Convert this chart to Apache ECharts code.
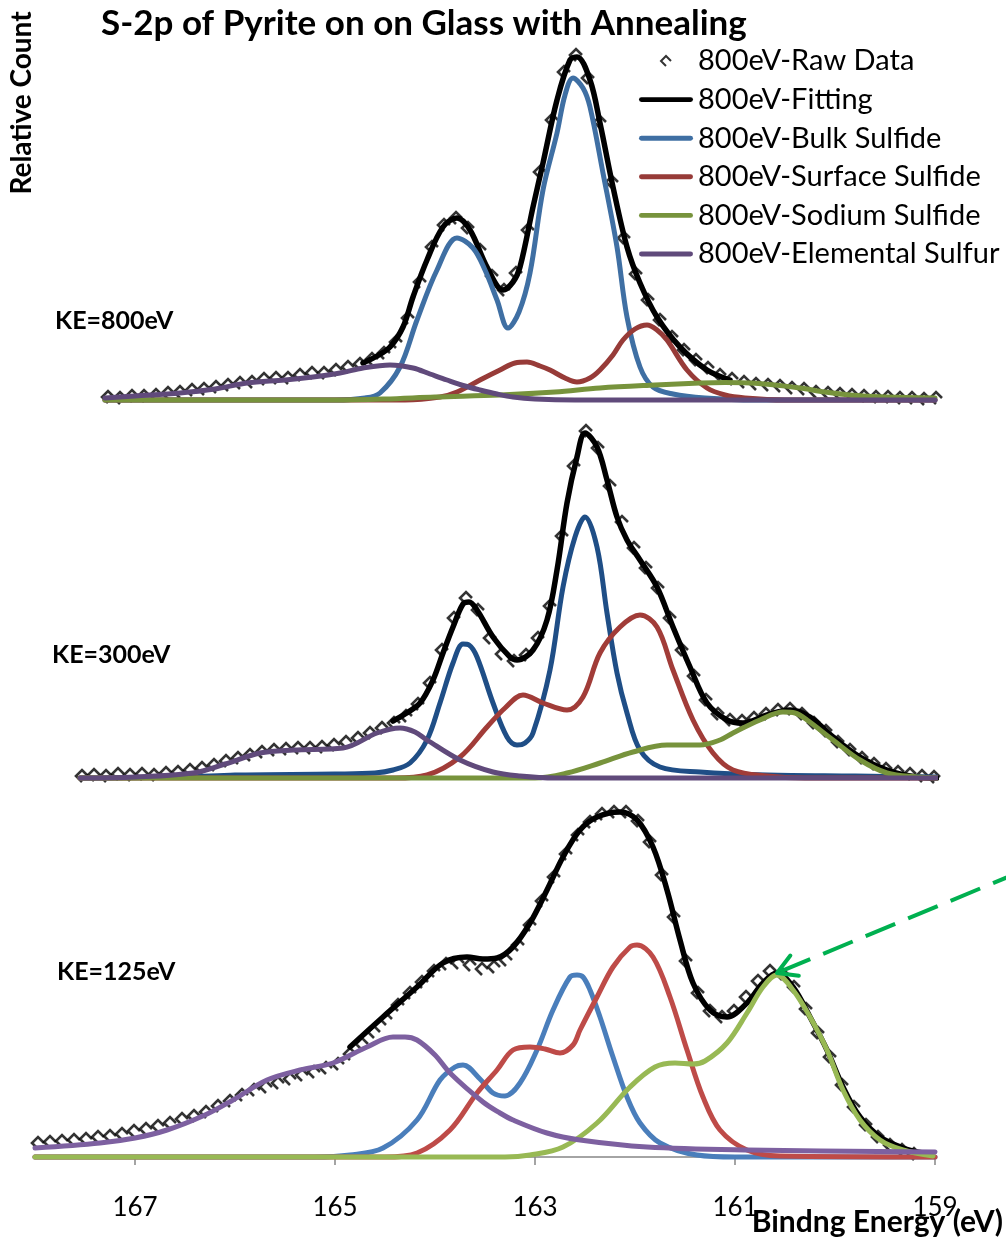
<!DOCTYPE html>
<html>
<head>
<meta charset="utf-8">
<script src="https://cdn.jsdelivr.net/npm/echarts@6/dist/echarts.min.js"></script>
<style>
  html, body { margin: 0; padding: 0; background: #fff; }
  #chart { width: 1006px; height: 1238px; }
</style>
</head>
<body>
<div id="chart"></div>
<script>
// S-2p spectra, binding energy (eV) vs relative count, one panel per kinetic energy.
// Each list holds [binding energy, relative count] pairs.

// ---- KE = 800 eV ----
const RAW_800 = [
  [167.27,3],[167.15,2],[167.03,4],[166.91,4],[166.79,5],[166.67,7],[166.55,8],[166.43,10],[166.31,11],[166.19,13],
  [166.07,15],[165.95,17],[165.83,18],[165.71,21],[165.59,22],[165.47,22],[165.35,25],[165.23,27],[165.11,27],[164.99,30],
  [164.87,33],[164.75,36],[164.63,41],[164.51,47],[164.39,58],[164.27,82],[164.15,118],[164.03,153],[163.91,175],[163.79,182],
  [163.67,172],[163.55,150],[163.43,124],[163.31,110],[163.19,127],[163.07,170],[162.95,228],[162.83,280],[162.71,328],[162.59,345],
  [162.47,322],[162.35,278],[162.23,218],[162.11,162],[161.99,126],[161.87,100],[161.75,80],[161.63,63],[161.51,50],[161.39,40],
  [161.27,32],[161.15,25],[161.03,21],[160.91,18],[160.79,16],[160.67,15],[160.55,14],[160.43,12],[160.31,11],[160.19,8],
  [160.07,7],[159.95,6],[159.83,5],[159.71,4],[159.59,3],[159.47,3],[159.35,2],[159.23,2],[159.11,1],[158.99,2]
];
const FIT_800 = [
  [164.72,37],[164.58,44],[164.45,53],[164.32,73],[164.22,103],[164.08,140],[163.92,173],[163.78,182],[163.65,170],[163.48,133],
  [163.32,110],[163.22,118],[163.15,133],[163.02,193],[162.92,237],[162.78,300],[162.65,340],[162.58,343],[162.45,320],[162.35,277],
  [162.22,213],[162.08,153],[161.95,117],[161.78,83],[161.55,53],[161.28,30],[161.05,20]
];
const BULK_800 = [
  [167.3,0],[165.0,0],[164.7,2],[164.55,7],[164.35,33],[164.18,80],[163.98,130],[163.78,162],[163.62,152],[163.5,130],
  [163.38,100],[163.27,72],[163.16,88],[163.05,127],[162.92,210],[162.78,267],[162.7,305],[162.62,322],[162.52,312],[162.45,293],
  [162.32,227],[162.18,153],[162.08,83],[161.95,33],[161.82,13],[161.62,6],[161.3,2],[160.8,0],[159.0,0]
];
const SURF_800 = [
  [167.3,0],[164.3,0],[163.95,3],[163.78,8],[163.55,20],[163.35,30],[163.2,37],[163.08,38],[162.95,34],[162.85,30],
  [162.7,22],[162.58,18],[162.45,22],[162.35,30],[162.22,45],[162.12,60],[162.0,71],[161.88,75],[161.78,70],[161.68,60],
  [161.48,30],[161.28,12],[161.1,5],[160.9,2],[160.5,0],[159.0,0]
];
const SODIUM_800 = [
  [167.3,0],[165.0,0],[164.5,1],[164.0,3],[163.35,5],[162.8,8],[162.35,12],[161.8,15],[161.35,17],[161.1,17.5],
  [160.85,17],[160.6,15],[160.35,12],[160.1,8],[159.85,5],[159.5,3],[159.0,2]
];
const ELEM_800 = [
  [167.3,2],[167.0,4],[166.55,7],[166.2,11],[165.88,17],[165.5,20],[165.22,23],[164.95,27],[164.72,32],[164.45,35],
  [164.22,32],[164.05,26],[163.88,20],[163.7,14],[163.55,10],[163.38,6],[163.22,3],[163.0,1],[162.6,0],[159.0,0]
];

// ---- KE = 300 eV ----
const RAW_300 = [
  [167.53,2],[167.41,3],[167.29,2],[167.17,4],[167.05,3],[166.93,4],[166.81,3],[166.69,5],[166.57,6],[166.45,8],
  [166.33,10],[166.21,13],[166.09,17],[165.97,20],[165.85,23],[165.73,26],[165.61,28],[165.49,29],[165.37,30],[165.25,30],
  [165.13,31],[165.01,33],[164.89,36],[164.77,40],[164.65,45],[164.53,50],[164.41,55],[164.29,62],[164.17,74],[164.05,95],
  [163.93,128],[163.81,160],[163.69,180],[163.57,168],[163.45,140],[163.33,124],[163.21,117],[163.09,123],[162.97,140],[162.85,172],
  [162.73,242],[162.61,312],[162.49,347],[162.37,330],[162.25,292],[162.13,256],[162.01,230],[161.89,210],[161.77,190],[161.65,160],
  [161.53,128],[161.41,102],[161.29,78],[161.17,64],[161.05,58],[160.93,57],[160.81,60],[160.69,64],[160.57,68],[160.45,69],
  [160.33,64],[160.21,55],[160.09,47],[159.97,36],[159.85,28],[159.73,20],[159.61,14],[159.49,9],[159.37,6],[159.25,4],
  [159.13,2],[159.01,1]
];
const FIT_300 = [
  [164.42,57],[164.3,64],[164.15,75],[164.02,98],[163.92,125],[163.82,151],[163.72,174],[163.66,176],[163.58,168],[163.42,141],
  [163.25,121],[163.18,118],[163.02,128],[162.88,158],[162.78,208],[162.68,275],[162.58,321],[162.5,345],[162.38,331],[162.28,298],
  [162.18,261],[162.08,238],[161.95,218],[161.78,191],[161.62,151],[161.45,111],[161.28,75],[161.08,58],[160.92,55],[160.68,63],
  [160.45,68],[160.25,61],[160.02,41],[159.75,21],[159.48,8],[159.18,1],[158.98,0]
];
const BULK_300 = [
  [167.55,0],[166.5,1],[166.0,3],[165.0,4],[164.6,5],[164.42,8],[164.25,15],[164.08,38],[163.95,75],[163.82,115],
  [163.72,134],[163.66,133],[163.58,121],[163.42,75],[163.28,41],[163.18,33],[163.1,35],[163.02,45],[162.85,108],[162.72,191],
  [162.6,241],[162.5,261],[162.38,231],[162.28,165],[162.18,105],[162.08,65],[161.95,28],[161.75,11],[161.35,6],[160.68,3],
  [159.8,2],[158.98,1]
];
const SURF_300 = [
  [167.55,0],[164.4,0],[164.08,3],[163.75,21],[163.48,51],[163.3,70],[163.12,83],[162.92,75],[162.68,68],[162.52,81],
  [162.35,125],[162.15,151],[161.95,163],[161.78,151],[161.62,108],[161.42,58],[161.22,25],[161.02,8],[160.68,2],[160.3,0],
  [158.98,0]
];
const SODIUM_300 = [
  [167.55,0],[163.0,0],[162.68,5],[162.35,15],[162.02,26],[161.68,33],[161.35,33],[161.15,38],[161.02,45],[160.75,58],
  [160.52,66],[160.4,65],[160.28,58],[160.02,38],[159.75,18],[159.48,5],[159.18,1],[158.98,0]
];
const ELEM_300 = [
  [167.55,0],[167.0,1],[166.42,5],[166.1,14],[165.75,25],[165.42,28],[164.92,30],[164.58,45],[164.35,50],[164.2,46],
  [164.08,38],[163.75,18],[163.42,6],[163.15,2],[162.8,0],[158.98,0]
];

// ---- KE = 125 eV ----
const RAW_125 = [
  [167.97,14],[167.85,15],[167.73,16],[167.61,17],[167.49,18],[167.37,20],[167.25,21],[167.13,23],[167.01,26],[166.89,28],
  [166.77,31],[166.65,34],[166.53,38],[166.41,41],[166.29,45],[166.17,51],[166.05,56],[165.93,62],[165.81,67],[165.69,70],
  [165.57,74],[165.45,78],[165.33,82],[165.21,85],[165.09,89],[164.97,93],[164.85,103],[164.73,113],[164.61,125],[164.49,138],
  [164.37,152],[164.25,164],[164.13,175],[164.01,186],[163.89,193],[163.77,194],[163.65,192],[163.53,188],[163.41,190],[163.29,197],
  [163.17,212],[163.05,232],[162.93,256],[162.81,280],[162.69,303],[162.57,322],[162.45,335],[162.33,343],[162.21,345],[162.09,345],
  [161.97,336],[161.85,315],[161.73,282],[161.61,240],[161.49,196],[161.37,164],[161.25,146],[161.13,140],[161.01,146],[160.89,160],
  [160.77,176],[160.65,186],[160.53,183],[160.41,170],[160.29,148],[160.17,124],[160.05,100],[159.93,72],[159.81,50],[159.69,32],
  [159.57,20],[159.45,12],[159.33,7],[159.21,3]
];
const FIT_125 = [
  [164.85,110],[164.52,140],[164.18,170],[163.92,194],[163.68,200],[163.52,198],[163.38,199],[163.22,210],[163.05,234],[162.88,267],
  [162.72,300],[162.55,327],[162.38,340],[162.15,345],[161.98,337],[161.82,310],[161.68,267],[161.55,217],[161.42,174],[161.25,147],
  [161.08,140],[160.88,154],[160.72,174],[160.58,184],[160.42,170],[160.25,140],[160.08,107],[159.92,70],[159.75,40],[159.55,20],
  [159.32,9],[159.12,4]
];
const BULK_125 = [
  [168.0,0],[165.2,0],[164.85,2],[164.52,9],[164.18,37],[163.95,77],[163.8,90],[163.72,92],[163.55,78],[163.42,64],
  [163.3,61],[163.15,74],[162.98,107],[162.82,147],[162.65,180],[162.58,182],[162.52,180],[162.45,167],[162.35,140],[162.22,100],
  [162.08,60],[161.95,34],[161.75,14],[161.38,2],[161.0,0],[159.0,0]
];
const SURF_125 = [
  [168.0,0],[164.5,0],[164.18,4],[163.85,27],[163.58,64],[163.38,87],[163.22,107],[163.05,110],[162.9,108],[162.75,104],
  [162.62,112],[162.55,127],[162.38,160],[162.22,190],[162.05,210],[161.98,212],[161.82,200],[161.65,160],[161.48,107],[161.32,60],
  [161.15,27],[160.88,7],[160.55,1],[159.0,0]
];
const SODIUM_125 = [
  [168.0,0],[163.3,0],[163.05,2],[162.72,10],[162.38,34],[162.05,70],[161.8,90],[161.6,94],[161.42,93],[161.3,96],
  [161.08,114],[160.88,144],[160.72,170],[160.58,182],[160.42,167],[160.25,140],[160.08,107],[159.92,67],[159.75,37],[159.55,17],
  [159.32,7],[159.02,1]
];
const ELEM_125 = [
  [168.0,9],[167.35,14],[167.0,19],[166.68,27],[166.3,42],[166.02,57],[165.68,77],[165.35,87],[165.02,94],[164.68,110],
  [164.42,120],[164.3,120],[164.18,117],[164.0,102],[163.85,84],[163.52,55],[163.35,44],[163.22,37],[162.88,24],[162.55,17],
  [161.88,10],[160.88,7],[159.0,5]
];

// Axis ticks and annotation text
const X_TICKS = [167, 165, 163, 161, 159];
const PANEL_LABELS = ['KE=800eV', 'KE=300eV', 'KE=125eV'];
const LEGEND_NAMES = ['800eV-Raw Data', '800eV-Fitting', '800eV-Bulk Sulfide',
  '800eV-Surface Sulfide', '800eV-Sodium Sulfide', '800eV-Elemental Sulfur'];

const FONT = 'Lato, "Open Sans", "DejaVu Sans", sans-serif';
// open diamond with one edge missing, as drawn for the raw data points
const RAW_SYMBOL = 'path://M10,5 L5,0 L0,5 L5,10';
// flat bar used as the legend sample for the fitted lines
const LINE_ICON = 'path://M2,0 L52,0 A2.5,2.5 0 0 1 52,5 L2,5 A2.5,2.5 0 0 1 2,0 Z';

const PANELS = [
  { tag: '800eV', raw: RAW_800, fit: FIT_800, bulk: BULK_800, surf: SURF_800, sodium: SODIUM_800, elem: ELEM_800,
    colors: ['#3F6FA3', '#973B38', '#77933C', '#604A7B'], top: 40 },
  { tag: '300eV', raw: RAW_300, fit: FIT_300, bulk: BULK_300, surf: SURF_300, sodium: SODIUM_300, elem: ELEM_300,
    colors: ['#1F4E86', '#A13C38', '#77933C', '#604A7B'], top: 418 },
  { tag: '125eV', raw: RAW_125, fit: FIT_125, bulk: BULK_125, surf: SURF_125, sodium: SODIUM_125, elem: ELEM_125,
    colors: ['#4A7EBB', '#BE4B48', '#98B954', '#7D60A0'], top: 797 }
];

const chart = echarts.init(document.getElementById('chart'), null, { renderer: 'canvas' });

const grids = [], xAxes = [], yAxes = [], series = [];
PANELS.forEach((p, i) => {
  grids.push({ left: 35, right: 71, top: p.top, height: 360 });
  const isBottom = i === PANELS.length - 1;
  xAxes.push({
    type: 'value', gridIndex: i, min: 159, max: 168, inverse: true, show: isBottom,
    splitLine: { show: false },
    axisLine: { show: true, lineStyle: { color: '#868686', width: 1.5 } },
    axisTick: { show: true, customValues: X_TICKS, length: 8, inside: false, lineStyle: { color: '#868686', width: 1.5 } },
    axisLabel: { customValues: X_TICKS, margin: 38, color: '#000', fontSize: 26, fontFamily: FONT }
  });
  yAxes.push({ type: 'value', gridIndex: i, min: 0, max: 360, show: false });

  const line = (name, data, color, width) => ({
    type: 'line', name, data, xAxisIndex: i, yAxisIndex: i,
    smooth: 0.35, symbol: 'none', clip: false, silent: true,
    lineStyle: { color, width, cap: 'round', join: 'round' },
    itemStyle: { color }
  });
  series.push({
    type: 'scatter', name: p.tag + '-Raw Data', data: p.raw, xAxisIndex: i, yAxisIndex: i,
    symbol: RAW_SYMBOL, symbolSize: 12, clip: false, silent: true,
    itemStyle: { color: 'rgba(0,0,0,0)', borderColor: '#000', borderWidth: 2.6 }
  });
  series.push(line(p.tag + '-Fitting', p.fit, '#000', 5.5));
  series.push(line(p.tag + '-Bulk Sulfide', p.bulk, p.colors[0], 5));
  series.push(line(p.tag + '-Surface Sulfide', p.surf, p.colors[1], 5));
  series.push(line(p.tag + '-Sodium Sulfide', p.sodium, p.colors[2], 5));
  series.push(line(p.tag + '-Elemental Sulfur', p.elem, p.colors[3], 5));
});

const option = {
  animation: false,
  backgroundColor: '#fff',
  title: {
    text: 'S-2p of Pyrite on on Glass with Annealing',
    left: 96, top: 1,
    textStyle: { fontSize: 35, fontWeight: 'bold', color: '#000', fontFamily: FONT }
  },
  legend: {
    data: LEGEND_NAMES.map((name, k) => (k === 0 ? { name } : { name, icon: LINE_ICON })),
    orient: 'vertical', left: 634, top: 41,
    itemWidth: 54, itemHeight: 10, itemGap: 8.6,
    textStyle: { fontSize: 29, color: '#000', fontFamily: FONT, lineHeight: 30 }
  },
  grid: grids, xAxis: xAxes, yAxis: yAxes, series,
  graphic: [
    { id: 'ylabel', type: 'text', x: 22, y: 103, rotation: Math.PI / 2,
      style: { text: 'Relative Count', font: 'bold 28px ' + FONT, fill: '#000', align: 'center', verticalAlign: 'middle' } },
    { id: 'ke0', type: 'text', x: 55, y: 321,
      style: { text: PANEL_LABELS[0], font: 'bold 25px ' + FONT, fill: '#000', verticalAlign: 'middle' } },
    { id: 'ke1', type: 'text', x: 52, y: 655,
      style: { text: PANEL_LABELS[1], font: 'bold 25px ' + FONT, fill: '#000', verticalAlign: 'middle' } },
    { id: 'ke2', type: 'text', x: 57, y: 972,
      style: { text: PANEL_LABELS[2], font: 'bold 25px ' + FONT, fill: '#000', verticalAlign: 'middle' } },
    { id: 'xname', type: 'text', x: 1003, y: 1222,
      style: { text: 'Bindng Energy (eV)', font: 'bold 30px ' + FONT, fill: '#000', align: 'right', verticalAlign: 'middle' } }
  ]
};
chart.setOption(option);

// Dashed green arrow pointing at the sodium sulfide peak of the 125 eV spectrum
const peak = SODIUM_125.reduce((a, b) => (b[1] > a[1] ? b : a));
const tip = chart.convertToPixel({ xAxisIndex: 2, yAxisIndex: 2 }, peak);
tip[1] -= 2;
const dir = [226, -94];
const len = Math.hypot(dir[0], dir[1]);
const u = [dir[0] / len, dir[1] / len];
const rot = (v, a) => [v[0] * Math.cos(a) - v[1] * Math.sin(a), v[0] * Math.sin(a) + v[1] * Math.cos(a)];
const armA = rot(u, Math.PI / 6), armB = rot(u, -Math.PI / 6);
const armLen = 22;
chart.setOption({
  graphic: [
    { id: 'arrowShaft', type: 'line', z: 100,
      shape: { x1: tip[0] + u[0] * 4, y1: tip[1] + u[1] * 4, x2: tip[0] + u[0] * 300, y2: tip[1] + u[1] * 300 },
      style: { stroke: '#00B050', lineWidth: 4, lineDash: [32, 14] } },
    { id: 'arrowHead', type: 'polyline', z: 100,
      shape: { points: [
        [tip[0] + armA[0] * armLen, tip[1] + armA[1] * armLen], tip,
        [tip[0] + armB[0] * armLen, tip[1] + armB[1] * armLen]] },
      style: { stroke: '#00B050', lineWidth: 4, fill: null, lineCap: 'round', lineJoin: 'round' } }
  ]
});
</script>
</body>
</html>
